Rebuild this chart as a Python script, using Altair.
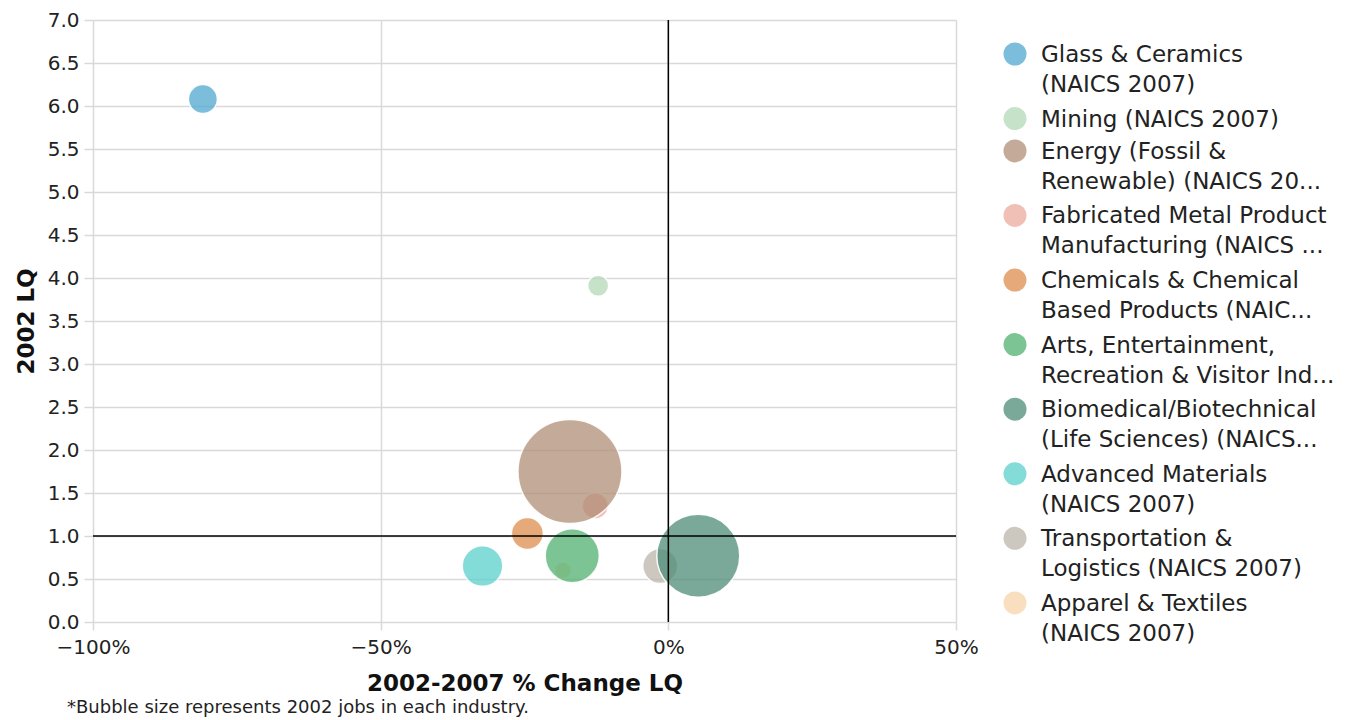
import altair as alt
import pandas as pd

# ---------------- data ----------------
industries = [
    "Glass & Ceramics (NAICS 2007)",
    "Mining (NAICS 2007)",
    "Energy (Fossil & Renewable) (NAICS 2007)",
    "Fabricated Metal Product Manufacturing (NAICS 2007)",
    "Chemicals & Chemical Based Products (NAICS 2007)",
    "Arts, Entertainment, Recreation & Visitor Industries (NAICS 2007)",
    "Biomedical/Biotechnical (Life Sciences) (NAICS 2007)",
    "Advanced Materials (NAICS 2007)",
    "Transportation & Logistics (NAICS 2007)",
    "Apparel & Textiles (NAICS 2007)",
]
legend_labels = [
    "Glass & Ceramics\n(NAICS 2007)",
    "Mining (NAICS 2007)",
    "Energy (Fossil &\nRenewable) (NAICS 20...",
    "Fabricated Metal Product\nManufacturing (NAICS ...",
    "Chemicals & Chemical\nBased Products (NAIC...",
    "Arts, Entertainment,\nRecreation & Visitor Ind...",
    "Biomedical/Biotechnical\n(Life Sciences) (NAICS...",
    "Advanced Materials\n(NAICS 2007)",
    "Transportation &\nLogistics (NAICS 2007)",
    "Apparel & Textiles\n(NAICS 2007)",
]
pct_change_lq = [-0.809, -0.122, -0.171, -0.127, -0.245, -0.167, 0.052, -0.323, -0.014, -0.183]
lq_2002 = [6.08, 3.91, 1.75, 1.35, 1.03, 0.77, 0.77, 0.65, 0.65, 0.60]
jobs_2002 = [2100, 1100, 27000, 1700, 2560, 7300, 17200, 4100, 3060, 720]
colors = ["#4fa7cf", "#b3d8b6", "#b08e76", "#ebab9e", "#de8c4e",
          "#50b070", "#4e8c78", "#5bd0cb", "#bbb6ab", "#f7d4ab"]

x_ticks = [-1.0, -0.5, 0.0, 0.5]
y_ticks = [0.0, 0.5, 1.0, 1.5, 2.0, 2.5, 3.0, 3.5, 4.0, 4.5, 5.0, 5.5, 6.0, 6.5, 7.0]
ref_x = [0.0]
ref_y = [1.0]
note = "*Bubble size represents 2002 jobs in each industry."

FONT = "DejaVu Sans"

df = pd.DataFrame({
    "industry": industries,
    "change": pct_change_lq,
    "lq": lq_2002,
    "jobs": jobs_2002,
})

n_lines = [lab.count("\n") + 1 for lab in legend_labels]
starts = []
acc = 0
for n in n_lines:
    starts.append(acc)
    acc += n
df_leg = pd.DataFrame({"industry": industries, "label": legend_labels, "pos": starts})

color_scale = alt.Scale(domain=industries, range=colors)

x_enc = alt.X(
    "change:Q",
    scale=alt.Scale(domain=[x_ticks[0], x_ticks[-1]], nice=False, zero=False),
    axis=alt.Axis(values=x_ticks, format=".0%", title="2002-2007 % Change LQ",
                  tickSize=8, labelPadding=7, titlePadding=15, labelFlush=False),
)
y_enc = alt.Y(
    "lq:Q",
    scale=alt.Scale(domain=[y_ticks[0], y_ticks[-1]], nice=False),
    axis=alt.Axis(values=y_ticks, format=".1f", title="2002 LQ",
                  tickSize=9, labelPadding=5, titlePadding=9, labelFlush=False),
)

bubbles = alt.Chart(df).mark_circle(
    fillOpacity=0.75, stroke="white", strokeWidth=1.5, strokeOpacity=0.9
).encode(
    x=x_enc,
    y=y_enc,
    size=alt.Size("jobs:Q", scale=alt.Scale(domain=[0, max(jobs_2002)], range=[0, 10816]), legend=None),
    color=alt.Color("industry:N", scale=color_scale, legend=None),
    order=alt.Order("jobs:Q", sort="ascending"),
)

vrule = alt.Chart(pd.DataFrame({"v": ref_x})).mark_rule(color="black", strokeWidth=1.5).encode(
    x=alt.X("v:Q")
)
hrule = alt.Chart(pd.DataFrame({"v": ref_y})).mark_rule(color="black", strokeWidth=1.5).encode(
    y=alt.Y("v:Q")
)
footnote = alt.Chart(pd.DataFrame({"t": [note]})).mark_text(
    align="left", baseline="middle", fontSize=18, font=FONT, color="#222"
).encode(text="t:N", x=alt.value(-26), y=alt.value(688))

main = alt.layer(bubbles, vrule, hrule, footnote).properties(width=863, height=602)

leg_y = alt.Y("pos:Q", scale=alt.Scale(domain=[17.59, -1.053], nice=False, zero=False), axis=None)
leg_pts = alt.Chart(df_leg).mark_circle(size=529, opacity=0.75).encode(
    x=alt.value(12),
    y=leg_y,
    color=alt.Color("industry:N", scale=color_scale, legend=None),
)
leg_txt = alt.Chart(df_leg).mark_text(
    align="left", baseline="alphabetic", dy=8, fontSize=23, font=FONT,
    color="#222", lineBreak="\n", lineHeight=30,
).encode(x=alt.value(38), y=leg_y, text="label:N")
legend = alt.layer(leg_pts, leg_txt).properties(width=300, height=602)

chart = alt.hconcat(main, legend, spacing=47, bounds="flush").properties(
    padding={"left": 7, "top": 2, "right": 0, "bottom": 0}
).configure_view(strokeWidth=0).configure_axis(
    domain=False,
    gridColor="#d9d9d9",
    gridWidth=1.5,
    tickColor="#d9d9d9",
    tickWidth=1.5,
    labelFont=FONT,
    labelFontSize=20,
    labelColor="#222",
    titleFont=FONT,
    titleFontSize=23,
    titleFontWeight="bold",
    titleColor="#111",
)

chart.save("out.html", embed_options={"renderer": "svg", "actions": False})
